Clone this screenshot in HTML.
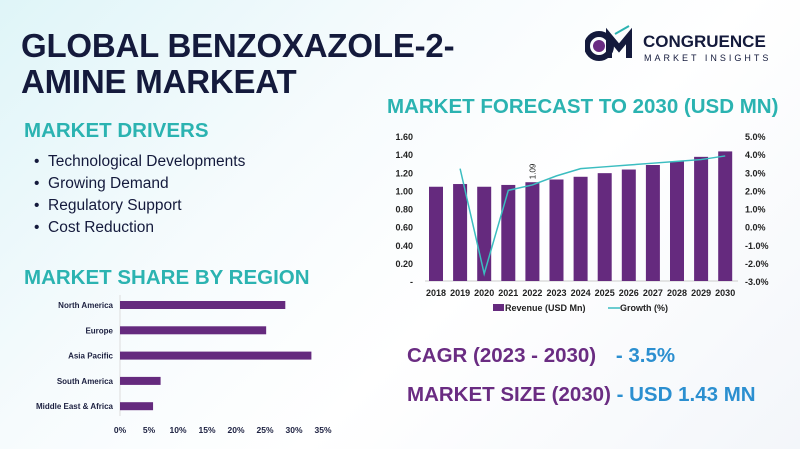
<!DOCTYPE html>
<html><head><meta charset="utf-8"><style>
body{margin:0;width:800px;height:449px;overflow:hidden;font-family:"Liberation Sans",sans-serif;background:linear-gradient(135deg,#dff5f8 0%,#f6fbfd 35%,#ffffff 60%,#f3f6fa 100%);position:relative}
.t{position:absolute;white-space:nowrap}
</style></head><body>
<div class="t" style="left:21px;top:28px;font-size:33px;font-weight:bold;color:#141a3c;line-height:36px;letter-spacing:-0.2px">GLOBAL BENZOXAZOLE-2-<br>AMINE MARKEAT</div>
<div class="t" style="left:585px;top:24px">
<svg width="60" height="40"><circle cx="14" cy="22" r="12" fill="none" stroke="#141a3c" stroke-width="6"/><circle cx="14" cy="22" r="6" fill="#6a2c82"/><path d="M24 34 V12 L34 24 L44 12 V34" fill="none" stroke="#141a3c" stroke-width="6"/><path d="M30 10 L44 2" stroke="#2bb3b1" stroke-width="2"/></svg></div>
<div class="t" style="left:643px;top:32px;font-size:17px;font-weight:bold;color:#141a3c">CONGRUENCE</div>
<div class="t" style="left:644px;top:53px;font-size:9px;letter-spacing:3px;color:#141a3c">MARKET INSIGHTS</div>
<div class="t" style="left:24px;top:119px;font-size:20.5px;font-weight:bold;color:#2bb3b1">MARKET DRIVERS</div>
<div class="t" style="left:34px;top:151px;font-size:15.5px;color:#141a3c;line-height:22px">• &nbsp;Technological Developments<br>• &nbsp;Growing Demand<br>• &nbsp;Regulatory Support<br>• &nbsp;Cost Reduction</div>
<div class="t" style="left:24px;top:266px;font-size:20.5px;font-weight:bold;color:#2bb3b1">MARKET SHARE BY REGION</div>
<div class="t" style="left:387px;top:95px;font-size:20.5px;font-weight:bold;color:#2bb3b1">MARKET FORECAST TO 2030 (USD MN)</div>
<div class="t" style="left:407px;top:344px;font-size:20.5px;font-weight:bold;color:#6a2c82">CAGR (2023 - 2030) <span style="color:#2b8fd0;margin-left:14px">- 3.5%</span></div>
<div class="t" style="left:407px;top:383px;font-size:20.5px;font-weight:bold;color:#6a2c82">MARKET SIZE (2030) <span style="color:#2b8fd0">- USD 1.43 MN</span></div>
<svg id="fc" class="t" style="left:0;top:0" width="800" height="449"></svg>
<script>
const years=["2018","2019","2020","2021","2022","2023","2024","2025","2026","2027","2028","2029","2030"];
const revenue=[1.04,1.07,1.04,1.06,1.09,1.12,1.15,1.19,1.23,1.28,1.32,1.37,1.43];
const growth=[null,3.2,-2.6,2.0,2.3,2.8,3.2,3.3,3.4,3.5,3.6,3.7,3.9];
const leftTicks=["-","0.20","0.40","0.60","0.80","1.00","1.20","1.40","1.60"];
const rightTicks=["-3.0%","-2.0%","-1.0%","0.0%","1.0%","2.0%","3.0%","4.0%","5.0%"];
const regions=["North America","Europe","Asia Pacific","South America","Middle East & Africa"];
const shares=[28.5,25.2,33,7,5.7];
const shareTicks=["0%","5%","10%","15%","20%","25%","30%","35%"];
const NS="http://www.w3.org/2000/svg",svg=document.getElementById('fc');
function mk(t,a,txt){const e=document.createElementNS(NS,t);for(const k in a)e.setAttribute(k,a[k]);if(txt!=null)e.textContent=txt;svg.appendChild(e);return e;}
const yL=v=>281-v/1.6*145, yR=v=>281-(v+3)/8*145, xB=i=>436+i*24.1;
leftTicks.forEach((t,i)=>{const e=mk('text',{x:413,y:yL(i*0.2)+4,'text-anchor':'end','font-size':9,'font-weight':'bold',fill:'#222'},t);

});
rightTicks.forEach((t,i)=>{const e=mk('text',{x:745,y:yR(i-3)+4,'font-size':9,'font-weight':'bold',fill:'#222'},t);

});
mk('line',{x1:425,x2:738,y1:281,y2:281,stroke:'#ccc'});
years.forEach((y,i)=>{const r=mk('rect',{x:xB(i)-7,y:yL(revenue[i]),width:14,height:281-yL(revenue[i]),fill:'#652a7e'});


const e=mk('text',{x:xB(i),y:296,'text-anchor':'middle','font-size':9,'font-weight':'bold',fill:'#222'},y);

});
let d='';growth.forEach((g,i)=>{if(g==null)return;d+=(d?'L':'M')+xB(i)+' '+yR(g);});
const p=mk('path',{d:d,fill:'none',stroke:'#3bbdc0','stroke-width':1.5});


const lb=mk('text',{x:0,y:0,'font-size':8,fill:'#222',transform:`translate(${xB(4)+3},${yL(revenue[4])-3}) rotate(-90)`},revenue[4].toFixed(2));


const l1=mk('rect',{x:493,y:304,width:11,height:7,fill:'#652a7e'});


const l2=mk('text',{x:505,y:311,'font-size':9,'font-weight':'bold',fill:'#222'},'Revenue (USD Mn)');


const l3=mk('line',{x1:608,x2:620,y1:308,y2:308,stroke:'#3bbdc0','stroke-width':1.5});


const l4=mk('text',{x:620,y:311,'font-size':9,'font-weight':'bold',fill:'#222'},'Growth (%)');


const xS=v=>120+v/35*203;
mk('line',{x1:120,x2:120,y1:295,y2:416,stroke:'#ddd'});
regions.forEach((r,i)=>{const cy=305+i*25.3;
const b=mk('rect',{x:120,y:cy-4,width:xS(shares[i])-120,height:8,fill:'#652a7e'});


const t=mk('text',{x:113,y:cy+3,'text-anchor':'end','font-size':8,'font-weight':'bold',fill:'#1c2040'},r);

});
shareTicks.forEach((t,i)=>{const e=mk('text',{x:xS(i*5),y:433,'text-anchor':'middle','font-size':8.5,'font-weight':'bold',fill:'#1c2040'},t);

});
</script>
</body></html>
